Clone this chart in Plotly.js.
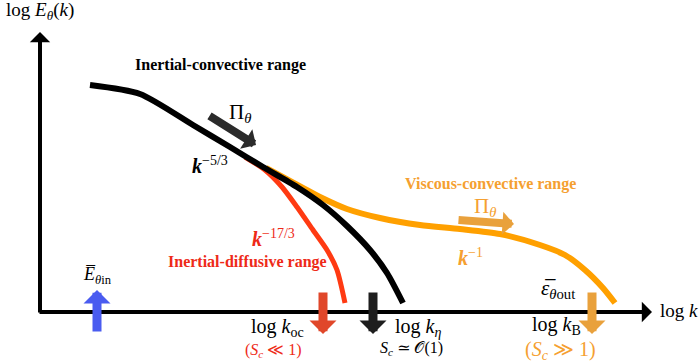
<!DOCTYPE html>
<html>
<head>
<meta charset="utf-8">
<script src="https://cdn.plot.ly/plotly-3.0.1.min.js"></script>
<style>
  html, body { margin: 0; padding: 0; background: #fff; }
  #chart { width: 700px; height: 362px; }
</style>
</head>
<body>
<div id="chart"></div>
<script>
// schematic spectrum, in picture units (log k to the right, log E downward range)
const blackK = [90, 140, 193, 230, 263, 297, 323, 347, 370, 387, 403];
const blackE = [85, 94, 125, 147, 167, 187, 205, 226, 250, 273, 303];

const orangeK = [266, 290, 320, 347, 380, 420, 460, 500, 540, 565, 585, 603, 615];
const orangeE = [168, 181, 197, 209, 218, 225, 229, 234, 245, 255, 270, 288, 303];

const redK = [245, 265, 282, 297, 313, 327, 337, 345];
const redE = [157, 170, 187, 207, 230, 250, 270, 303];

// wavenumber markers on the k axis
const markerK = [97, 323, 373, 592];
const markerDir = ['up', 'down', 'down', 'down'];
const markerColor = ['#4a5cf0', '#e0472a', '#1e1e1e', '#e9a13c'];

const axisOrigin = [40, 312];
const axisEnd = [652, 32];

const SERIF = 'Liberation Serif, DejaVu Serif, serif';

const traces = [
  { x: orangeK, y: orangeE, color: '#ffa000', w: 6 },
  { x: redK, y: redE, color: '#ff3a12', w: 5 },
  { x: blackK, y: blackE, color: '#000000', w: 6 },
].map(s => ({
  x: s.x, y: s.y, type: 'scatter', mode: 'lines',
  line: { color: s.color, width: s.w, shape: 'spline', smoothing: 0.7 },
  hoverinfo: 'skip', showlegend: false,
}));

function arrow(x0, y0, x1, y1, color, width, size) {
  return {
    x: x1, y: y1, ax: x0, ay: y0, xref: 'x', yref: 'y', axref: 'x', ayref: 'y',
    text: '', showarrow: true, arrowhead: 1, arrowsize: size, arrowwidth: width,
    arrowcolor: color,
  };
}

function label(x, y, text, size, color, extra) {
  return Object.assign({
    x: x, y: y, xref: 'x', yref: 'y', text: text, showarrow: false,
    font: { family: SERIF, size: size, color: color || '#000' },
    xanchor: 'center', yanchor: 'middle',
  }, extra || {});
}

const annotations = [
  // axes
  arrow(axisOrigin[0], axisOrigin[1] + 2, axisOrigin[0], axisEnd[1], '#000', 4, 0.85),
  arrow(axisOrigin[0] - 2, axisOrigin[1], axisEnd[0], axisOrigin[1], '#000', 4, 0.85),
  // flux arrows
  arrow(208, 115, 256, 145, '#2b2b2b', 8, 0.48),
  arrow(457, 220, 514, 224, '#e9a13c', 8, 0.48),
];

markerK.forEach((k, i) => {
  if (markerDir[i] === 'up') annotations.push(arrow(k, 333, k, 290, markerColor[i], 9, 0.5));
  else annotations.push(arrow(k, 291, k, 334, markerColor[i], 9, 0.5));
});

annotations.push(
  label(40, 11, 'log <i>E</i><sub><i>θ</i></sub>(<i>k</i>)', 19),
  label(679, 310, 'log <i>k</i>', 19),
  label(220, 65, '<b>Inertial-convective range</b>', 16),
  label(240, 113, 'Π<sub><i>θ</i></sub>', 21),
  label(210, 165, '<b><i>k</i></b><sup>−5/3</sup>', 20),
  label(490, 184, '<b>Viscous-convective range</b>', 16, '#f5a030'),
  label(485, 207, 'Π<sub><i>θ</i></sub>', 21, '#f5a030'),
  label(470, 257, '<b><i>k</i></b><sup>−1</sup>', 20, '#f5a030'),
  label(273, 238, '<b><i>k</i></b><sup>−17/3</sup>', 20, '#ee2a18'),
  label(247, 262, '<b>Inertial-diffusive range</b>', 16, '#ee2a18'),
  label(97, 275, '<i>E̅</i><sub><i>θ</i>in</sub>', 18),
  label(558, 289, '<i>ε̅</i><sub><i>θ</i>out</sub>', 21),
  label(277, 327, 'log <i>k</i><sub>oc</sub>', 20),
  label(273, 350, '(<i>S<sub>c</sub></i> ≪ 1)', 16, '#ee2a18'),
  label(418, 327, 'log <i>k</i><sub><i>η</i></sub>', 20),
  label(411, 348, '<i>S<sub>c</sub></i> ≃ 𝒪(1)', 16),
  label(556, 325, 'log <i>k</i><sub>B</sub>', 20),
  label(560, 350, '(<i>S<sub>c</sub></i> ≫ 1)', 20, '#f5a030'),
);

const layout = {
  width: 700, height: 362,
  margin: { l: 0, r: 0, t: 0, b: 0 },
  paper_bgcolor: '#fff', plot_bgcolor: '#fff',
  xaxis: { range: [0, 700], visible: false, fixedrange: true },
  yaxis: { range: [362, 0], visible: false, fixedrange: true },
  annotations: annotations,
  showlegend: false,
};

Plotly.newPlot('chart', traces, layout, { displayModeBar: false, staticPlot: true });
</script>
</body>
</html>
